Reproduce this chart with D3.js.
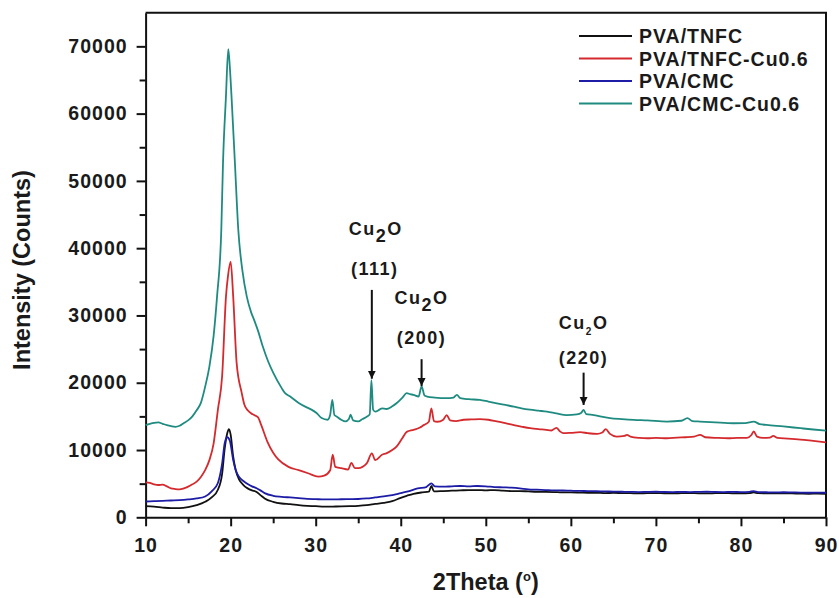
<!DOCTYPE html>
<html>
<head>
<meta charset="utf-8">
<script src="https://cdn.jsdelivr.net/npm/d3@7"></script>
<style>
  body { margin: 0; background: #fff; }
  svg text { font-family: "Liberation Sans", Arial, sans-serif; font-weight: bold; fill: #1a1a1a; }
</style>
</head>
<body>
<div id="plot"></div>
<script>
let seriesNames = ["PVA/TNFC", "PVA/TNFC-Cu0.6", "PVA/CMC", "PVA/CMC-Cu0.6"];
let seriesColors = ["#111111", "#d42a2e", "#1c1ca6", "#1f8b80"];

let xTicks = [10, 20, 30, 40, 50, 60, 70, 80, 90];
let yTicks = [0, 10000, 20000, 30000, 40000, 50000, 60000, 70000];

// [2theta, counts]
let tnfc = [[10,1650],[11,1600],[12,1450],[13,1350],[14,1350],[15,1500],[16,1800],[17,2300],[17.8,3000],[18.5,4100],[19,6500],[19.3,10200],[19.6,12500],[19.8,13100],[20,12300],[20.3,9000],[20.6,7000],[21,5600],[21.5,4800],[22,4300],[22.5,4000],[23,3800],[23.5,3300],[24,2800],[25,2300],[26,2050],[27,1950],[28,1800],[29,1700],[30,1650],[31,1580],[32,1600],[33,1620],[34,1650],[35,1700],[36,1800],[37,1980],[38,2150],[39,2400],[40,2900],[40.7,3200],[41.5,3500],[42.5,3700],[43.3,3800],[43.6,4650],[43.9,3850],[45,3900],[46,3950],[47,4000],[48,4050],[49,4050],[50,4000],[51,4050],[52,3950],[53,3900],[54,3900],[55,3850],[56,3800],[57,3780],[58,3750],[59,3700],[60,3700],[61,3680],[62,3650],[63,3650],[64,3600],[65,3620],[66,3600],[67,3580],[68,3550],[69,3600],[70,3600],[71,3560],[72,3550],[73,3580],[74,3600],[75,3560],[76,3550],[77,3580],[78,3600],[79,3560],[80,3550],[81,3600],[81.5,3700],[82,3600],[83,3560],[84,3550],[85,3570],[86,3550],[87,3520],[88,3500],[89,3520],[90,3500]];

let tnfcCu = [[10,5200],[10.5,5100],[11,4900],[11.5,4800],[12,4850],[12.5,4600],[13,4300],[13.5,4200],[14,4150],[14.5,4300],[15,4550],[15.5,4900],[16,5300],[16.5,6000],[17,7000],[17.5,8500],[18,11000],[18.5,16000],[19,21000],[19.45,32800],[19.7,36000],[20,38000],[20.3,32800],[20.7,23000],[21.3,18500],[21.6,16800],[22,15900],[22.6,15300],[23.2,14900],[23.6,13700],[24.3,11300],[25,9600],[25.6,8600],[26.8,7500],[28,7000],[29.1,6550],[30.3,6050],[31,6200],[31.7,7000],[32,9300],[32.3,7500],[33,7300],[33.8,7100],[34.2,8100],[34.6,7300],[35,7300],[36,8000],[36.6,9500],[37,8500],[37.8,9300],[38.3,9500],[39,10000],[39.5,10500],[40.2,11800],[40.7,12700],[41.5,13000],[42.2,13300],[42.7,13700],[43.3,14200],[43.6,16200],[43.9,14300],[44.3,14200],[45,14500],[45.4,15200],[45.8,14400],[46.5,14300],[47.4,14500],[48.3,14550],[49.3,14600],[50.3,14500],[51.3,14250],[52.3,14000],[53.3,13700],[54.3,13450],[55.2,13250],[56.2,13100],[57.1,13000],[57.7,12900],[58.3,13300],[58.7,12800],[59.1,12500],[60,12550],[61.1,12650],[62,12500],[63.1,12400],[63.7,12600],[64.1,13100],[64.6,12400],[65.4,12000],[66.3,12100],[66.6,12250],[67,12000],[68.1,11800],[69,11750],[70,11800],[71.3,11750],[72.5,11850],[73.5,11900],[74.5,12000],[75.2,12250],[75.8,11900],[77.2,11800],[78.5,11750],[79.6,11800],[80.7,11800],[81.2,12200],[81.5,12750],[81.9,12000],[82.6,11800],[83.4,11850],[83.8,12100],[84.3,11800],[85.5,11700],[87,11550],[88.5,11350],[90,11150]];

let cmc = [[10,2350],[11,2400],[12,2450],[13,2500],[14,2550],[15,2650],[16,2800],[17,3100],[17.8,3900],[18.5,5100],[19,8000],[19.3,11000],[19.6,11900],[19.9,11400],[20.3,8500],[20.6,7000],[21,6000],[21.5,5400],[22,4950],[22.5,4600],[23,4350],[23.5,4000],[24,3600],[25,3200],[26,3050],[27,2950],[28,2850],[29,2750],[30,2700],[31,2650],[32,2650],[33,2680],[34,2700],[35,2720],[36,2800],[37,2950],[38,3100],[39,3300],[40,3600],[41,3900],[42,4300],[43,4500],[43.6,5050],[44,4600],[45,4550],[46,4600],[47,4650],[48,4600],[49,4650],[50,4600],[51,4500],[52,4450],[53,4400],[54,4300],[55,4150],[56,4100],[57,4050],[58,4000],[59,3980],[60,3950],[61,3920],[62,3900],[63,3870],[64,3850],[65,3820],[66,3800],[67,3780],[68,3750],[69,3780],[70,3800],[71,3760],[72,3750],[73,3770],[74,3750],[75,3780],[76,3800],[77,3760],[78,3750],[79,3770],[80,3750],[81,3780],[81.5,3900],[82,3750],[83,3720],[84,3700],[85,3720],[86,3700],[87,3680],[88,3650],[89,3670],[90,3650]];

let cmcCu = [[10,13700],[10.5,13900],[11,14050],[11.5,14100],[12,13900],[12.5,13700],[13,13550],[13.5,13450],[14,13600],[14.5,14000],[15,14400],[15.5,15000],[16,15900],[16.5,17000],[17,19400],[17.5,22400],[18,27000],[18.4,32800],[18.9,42700],[19.1,52600],[19.45,62600],[19.72,69600],[19.9,67000],[20.1,62600],[20.5,52700],[20.9,42700],[21.4,36500],[21.9,32800],[22.4,30500],[22.8,29200],[23.25,27600],[23.8,25300],[24.4,23200],[25,21500],[26,19200],[26.4,18450],[27,17950],[28,17000],[29,16300],[29.5,16000],[30.1,15500],[30.7,14750],[31.4,14500],[31.7,15200],[31.95,17450],[32.2,15200],[32.5,14950],[33,14500],[33.5,14250],[33.9,14600],[34.1,15250],[34.4,14400],[35,14250],[35.5,14600],[36,14950],[36.35,15300],[36.55,20400],[36.75,16000],[37,15700],[37.5,16000],[37.8,16200],[38.3,16100],[39,16500],[39.5,16950],[40.2,17800],[40.7,18450],[41.1,18300],[41.5,18200],[42.1,17950],[42.45,19450],[42.8,18100],[43.1,17950],[44,17800],[45.4,17700],[46.2,17800],[46.6,18200],[47,17700],[48,17550],[49.3,17450],[50.3,17200],[51.3,16950],[52.3,16700],[53.3,16450],[54.2,16200],[55.2,16000],[56.2,15850],[57.2,15700],[58.3,15450],[59.5,15200],[60.7,15300],[61.2,15500],[61.5,15950],[61.8,15350],[62.7,15200],[63.6,14950],[64.6,14750],[66,14600],[67.4,14480],[69,14400],[71.3,14230],[73,14350],[73.7,14750],[74.3,14300],[75.2,14230],[77,14100],[79.1,13980],[80.5,14000],[81.5,14230],[82.2,13850],[83,13730],[85,13500],[87,13240],[88.5,13050],[90,12890]];

let peakLabels = ["(111)", "(200)", "(220)"];
let peakTheta = [36.6, 42.45, 61.5];
let arrowFrom = [33800, 23500, 21500];
let arrowTo = [20600, 19500, 16700];

function renderPlot() {
    let width = 839;
    let height = 598;
    let margin = {top: 12.7, right: 13, bottom: 80.7, left: 145.6};

    let xScale = d3.scaleLinear().domain([10, 90]).range([margin.left, width - margin.right]);
    let yScale = d3.scaleLinear().domain([0, 75000]).range([height - margin.bottom, margin.top]);

    let svg = d3.select("#plot").append("svg")
        .attr("width", width)
        .attr("height", height);

    let defs = svg.append("defs");
    defs.append("marker")
        .attr("id", "arrowhead")
        .attr("viewBox", "0 0 10 10")
        .attr("refX", 10).attr("refY", 5)
        .attr("markerWidth", 4).attr("markerHeight", 6.5)
        .attr("markerUnits", "strokeWidth")
        .attr("orient", "auto")
        .append("path")
        .attr("d", "M0,0 L10,5 L0,10 Z")
        .attr("fill", "#111");

    // frame top and right
    svg.append("path")
        .attr("d", `M${margin.left},${margin.top} H${width - margin.right} V${height - margin.bottom}`)
        .attr("fill", "none").attr("stroke", "#111").attr("stroke-width", 2);

    // minor ticks
    let xMinor = d3.range(15, 90, 10);
    let yMinor = d3.range(5000, 75000, 10000);

    svg.append("g")
        .attr("transform", `translate(0,${height - margin.bottom})`)
        .call(d3.axisBottom(xScale).tickValues(xMinor).tickSize(6).tickFormat(""))
        .call(g => g.select(".domain").remove())
        .selectAll("line").attr("stroke", "#111").attr("stroke-width", 2);

    svg.append("g")
        .attr("transform", `translate(${margin.left},0)`)
        .call(d3.axisLeft(yScale).tickValues(yMinor).tickSize(6).tickFormat(""))
        .call(g => g.select(".domain").remove())
        .selectAll("line").attr("stroke", "#111").attr("stroke-width", 2);

    let xAxis = svg.append("g")
        .attr("transform", `translate(0,${height - margin.bottom})`)
        .call(d3.axisBottom(xScale).tickValues(xTicks).tickSize(9).tickSizeOuter(0).tickPadding(12).tickFormat(d3.format("d")));
    xAxis.select(".domain").attr("stroke", "#111").attr("stroke-width", 2);
    xAxis.selectAll("line").attr("stroke", "#111").attr("stroke-width", 2);
    xAxis.selectAll("text").style("font-size", "19.5px").style("letter-spacing", "1px").attr("fill", "#1a1a1a");

    let yAxis = svg.append("g")
        .attr("transform", `translate(${margin.left},0)`)
        .call(d3.axisLeft(yScale).tickValues(yTicks).tickSize(9).tickSizeOuter(0).tickPadding(9).tickFormat(d3.format("d")));
    yAxis.select(".domain").attr("stroke", "#111").attr("stroke-width", 2);
    yAxis.selectAll("line").attr("stroke", "#111").attr("stroke-width", 2);
    yAxis.selectAll("text").style("font-size", "19.5px").style("letter-spacing", "1px").attr("fill", "#1a1a1a");

    // curves
    let allSeries = [tnfc, tnfcCu, cmc, cmcCu];
    let line = d3.line().curve(d3.curveMonotoneX).x(d => xScale(d[0])).y(d => yScale(d[1]));
    allSeries.forEach((s, i) => {
        svg.append("path")
            .datum(s)
            .attr("d", line)
            .attr("fill", "none")
            .attr("stroke", seriesColors[i])
            .attr("stroke-width", 1.8)
            .attr("stroke-linejoin", "round");
    });

    // peak annotations
    peakLabels.forEach((lab, i) => {
        let px = xScale(peakTheta[i]);
        let y0 = yScale(arrowFrom[i]);
        svg.append("line")
            .attr("x1", px).attr("x2", px)
            .attr("y1", y0).attr("y2", yScale(arrowTo[i]))
            .attr("stroke", "#111").attr("stroke-width", 2)
            .attr("marker-end", "url(#arrowhead)");
        let small = i === 2;
        let t = svg.append("text")
            .attr("x", px + (i === 0 ? 4 : 0))
            .attr("y", y0 - (small ? 44 : 55))
            .attr("text-anchor", "middle")
            .style("font-size", "18px")
            .style("letter-spacing", "1.5px");
        t.append("tspan").text("Cu");
        t.append("tspan").attr("dy", small ? 6 : 7).style("font-size", small ? "10px" : "18px").text("2");
        t.append("tspan").attr("dy", small ? -6 : -7).text("O");
        svg.append("text")
            .attr("x", px + (i === 0 ? 3 : 0))
            .attr("y", y0 - (small ? 9 : 15))
            .attr("text-anchor", "middle")
            .style("font-size", "18px")
            .style("letter-spacing", "1.5px")
            .text(lab);
    });

    // legend
    let legend = svg.append("g").attr("transform", "translate(579,36)");
    seriesNames.forEach((name, i) => {
        let row = legend.append("g").attr("transform", `translate(0,${i * 22.5})`);
        row.append("line")
            .attr("x1", 0).attr("x2", 53)
            .attr("stroke", seriesColors[i]).attr("stroke-width", 1.8);
        row.append("text")
            .attr("x", 60).attr("y", 7)
            .style("font-size", "19.5px")
            .style("letter-spacing", "1px")
            .text(name);
    });

    // axis titles
    let xt = svg.append("text")
        .attr("x", (margin.left + width - margin.right) / 2)
        .attr("y", 590)
        .attr("text-anchor", "middle")
        .style("font-size", "23.5px");
    xt.append("tspan").text("2Theta (");
    xt.append("tspan").attr("dy", -9).style("font-size", "13px").text("o");
    xt.append("tspan").attr("dy", 9).text(")");

    svg.append("text")
        .attr("transform", `translate(30,${(margin.top + height - margin.bottom) / 2 + 5}) rotate(-90)`)
        .attr("text-anchor", "middle")
        .style("font-size", "23.5px")
        .text("Intensity (Counts)");
}

renderPlot();
</script>
</body>
</html>
